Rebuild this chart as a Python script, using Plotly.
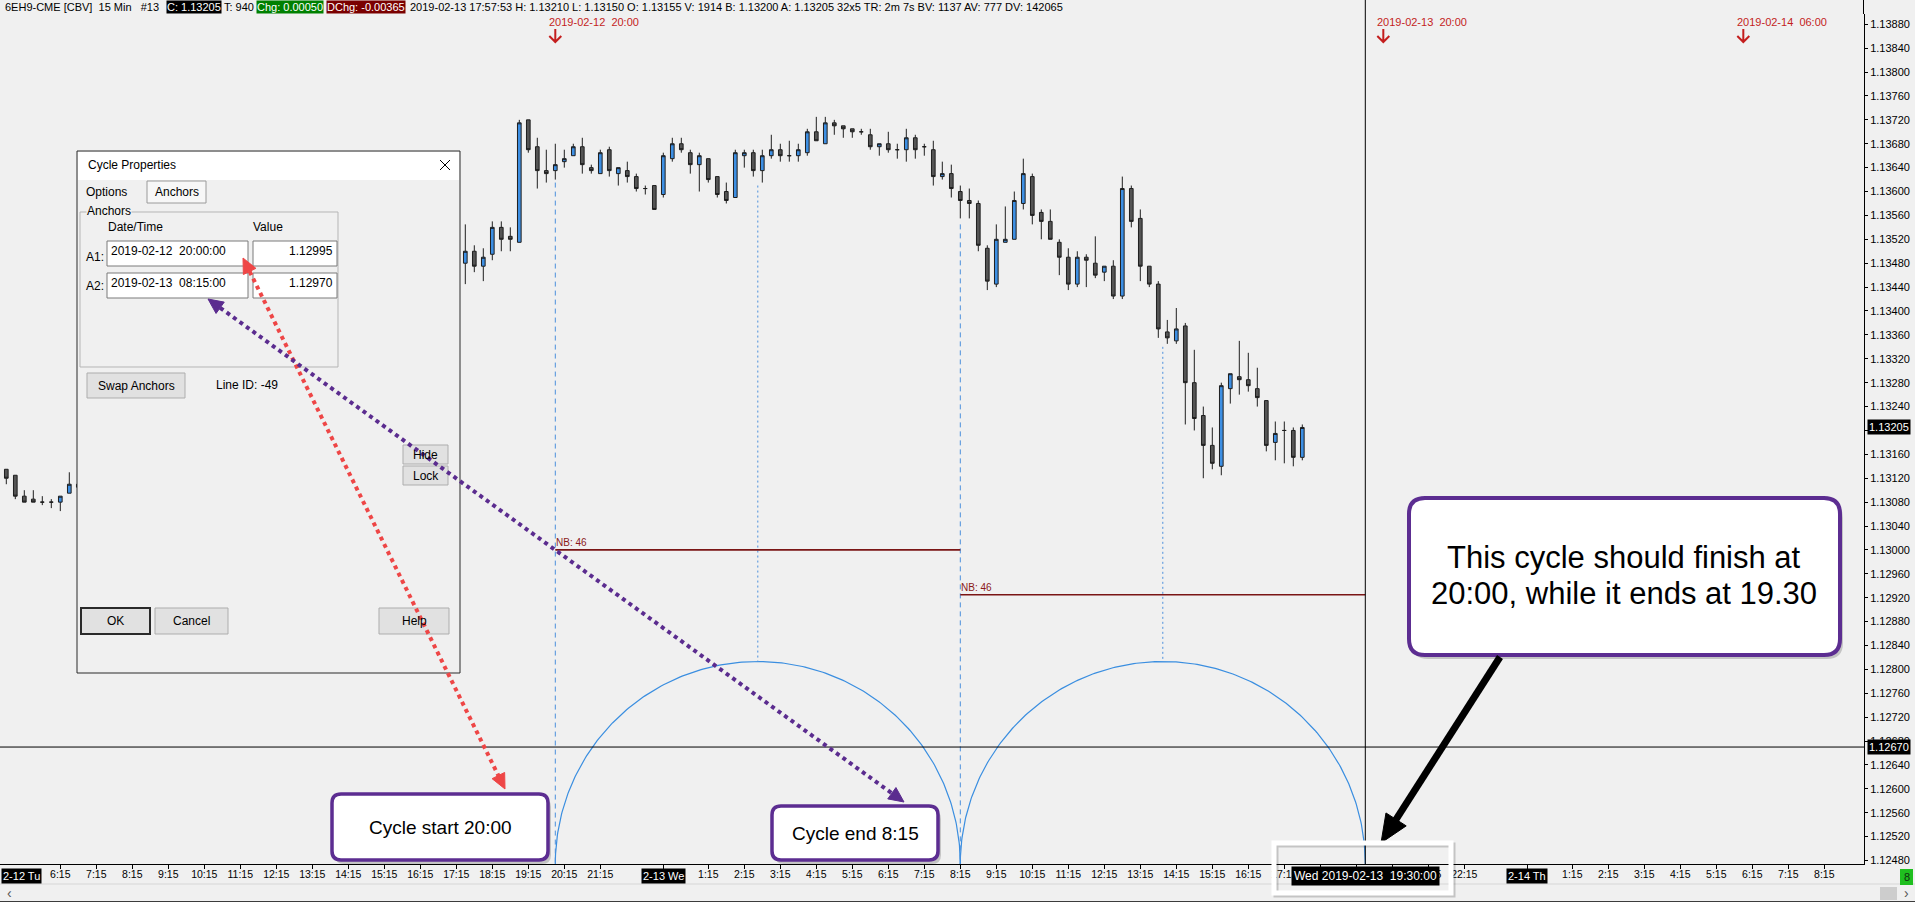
import numpy as np
import pandas as pd
import plotly.graph_objects as go

FONT = "Liberation Sans, Arial, sans-serif"
SP = "\u00a0"

# ---------------- data: 15-minute bars of 6EH9-CME ----------------
seg_starts = ["2019-02-12 04:45", "2019-02-12 17:30", "2019-02-13 00:00"]

open_a  = [1.13135, 1.13125, 1.13090, 1.13085, 1.13080, 1.13080, 1.13080, 1.13095, 1.13105]
high_a  = [1.13135, 1.13125, 1.13100, 1.13100, 1.13090, 1.13085, 1.13090, 1.13130, 1.13110]
low_a   = [1.13110, 1.13085, 1.13080, 1.13080, 1.13075, 1.13070, 1.13065, 1.13095, 1.13105]
close_a = [1.13120, 1.13090, 1.13080, 1.13080, 1.13080, 1.13080, 1.13090, 1.13110, 1.13110]

open_b  = [1.13480, 1.13500, 1.13475, 1.13495, 1.13540, 1.13525, 1.13515, 1.13720, 1.13675, 1.13635, 1.13635,
           1.13650, 1.13660, 1.13675, 1.13640, 1.13630, 1.13670, 1.13630, 1.13635, 1.13625, 1.13605, 1.13610]
high_b  = [1.13545, 1.13510, 1.13505, 1.13550, 1.13550, 1.13540, 1.13720, 1.13720, 1.13690, 1.13670, 1.13680,
           1.13670, 1.13680, 1.13690, 1.13645, 1.13670, 1.13675, 1.13640, 1.13650, 1.13630, 1.13610, 1.13610]
low_b   = [1.13445, 1.13465, 1.13450, 1.13485, 1.13500, 1.13500, 1.13515, 1.13665, 1.13605, 1.13615, 1.13620,
           1.13640, 1.13660, 1.13630, 1.13630, 1.13630, 1.13625, 1.13610, 1.13615, 1.13600, 1.13595, 1.13570]
close_b = [1.13500, 1.13475, 1.13490, 1.13540, 1.13520, 1.13520, 1.13715, 1.13670, 1.13635, 1.13630, 1.13645,
           1.13655, 1.13675, 1.13645, 1.13635, 1.13665, 1.13635, 1.13640, 1.13625, 1.13605, 1.13605, 1.13570]

open_c = [1.13595, 1.13655, 1.13680, 1.13665, 1.13645, 1.13655, 1.13625, 1.13600,
          1.13590, 1.13660, 1.13665, 1.13635, 1.13660, 1.13670, 1.13660, 1.13660,
          1.13665, 1.13700, 1.13680, 1.13715, 1.13710, 1.13705, 1.13700, 1.13695,
          1.13675, 1.13680, 1.13670, 1.13670, 1.13690, 1.13675, 1.13670, 1.13625,
          1.13630, 1.13600, 1.13585, 1.13580, 1.13505, 1.13445, 1.13515, 1.13520,
          1.13580, 1.13625, 1.13565, 1.13550, 1.13515, 1.13490, 1.13445, 1.13490,
          1.13480, 1.13465, 1.13475, 1.13425, 1.13605, 1.13555, 1.13475, 1.13445,
          1.13365, 1.13350, 1.13375, 1.13280, 1.13225, 1.13175, 1.13140, 1.13270,
          1.13290, 1.13285, 1.13270, 1.13250, 1.13180, 1.13200, 1.13200, 1.13155]
high_c = [1.13665, 1.13690, 1.13690, 1.13670, 1.13665, 1.13655, 1.13625, 1.13615,
          1.13670, 1.13670, 1.13670, 1.13670, 1.13695, 1.13680, 1.13685, 1.13680,
          1.13705, 1.13725, 1.13725, 1.13720, 1.13710, 1.13705, 1.13705, 1.13705,
          1.13680, 1.13700, 1.13680, 1.13705, 1.13695, 1.13680, 1.13685, 1.13650,
          1.13645, 1.13610, 1.13605, 1.13585, 1.13510, 1.13545, 1.13575, 1.13600,
          1.13655, 1.13630, 1.13570, 1.13570, 1.13520, 1.13505, 1.13500, 1.13495,
          1.13525, 1.13475, 1.13485, 1.13625, 1.13610, 1.13570, 1.13475, 1.13450,
          1.13385, 1.13405, 1.13380, 1.13335, 1.13240, 1.13205, 1.13280, 1.13295,
          1.13350, 1.13330, 1.13305, 1.13250, 1.13215, 1.13215, 1.13205, 1.13210]
low_c = [1.13590, 1.13650, 1.13665, 1.13630, 1.13600, 1.13615, 1.13590, 1.13580,
         1.13590, 1.13640, 1.13625, 1.13615, 1.13655, 1.13650, 1.13650, 1.13650,
         1.13660, 1.13685, 1.13680, 1.13695, 1.13690, 1.13690, 1.13695, 1.13670,
         1.13660, 1.13665, 1.13655, 1.13650, 1.13655, 1.13660, 1.13610, 1.13620,
         1.13590, 1.13555, 1.13555, 1.13500, 1.13435, 1.13440, 1.13515, 1.13520,
         1.13570, 1.13545, 1.13520, 1.13520, 1.13460, 1.13435, 1.13440, 1.13440,
         1.13455, 1.13450, 1.13420, 1.13420, 1.13540, 1.13450, 1.13440, 1.13355,
         1.13345, 1.13345, 1.13210, 1.13200, 1.13120, 1.13135, 1.13125, 1.13245,
         1.13260, 1.13265, 1.13240, 1.13165, 1.13150, 1.13145, 1.13140, 1.13150]
close_c = [1.13660, 1.13680, 1.13670, 1.13645, 1.13660, 1.13620, 1.13595, 1.13585,
           1.13665, 1.13665, 1.13635, 1.13660, 1.13670, 1.13660, 1.13660, 1.13670,
           1.13700, 1.13685, 1.13715, 1.13710, 1.13705, 1.13700, 1.13700, 1.13675,
           1.13680, 1.13670, 1.13670, 1.13690, 1.13670, 1.13675, 1.13625, 1.13630,
           1.13605, 1.13585, 1.13580, 1.13510, 1.13450, 1.13520, 1.13520, 1.13585,
           1.13630, 1.13560, 1.13550, 1.13520, 1.13490, 1.13445, 1.13490, 1.13485,
           1.13460, 1.13475, 1.13425, 1.13605, 1.13550, 1.13475, 1.13445, 1.13370,
           1.13355, 1.13370, 1.13280, 1.13220, 1.13175, 1.13145, 1.13275, 1.13295,
           1.13285, 1.13275, 1.13255, 1.13175, 1.13195, 1.13200, 1.13155, 1.13205]

# cycle tool
cycle_anchor_times = ["2019-02-12 20:00", "2019-02-13 08:15"]
cycle_anchor_values = ["1.12995", "1.12970"]
cycle_end_time = "2019-02-13 19:30"
nb_levels = [1.13000, 1.12925]
nb_text = "NB: 46"
anchor_line_tops = [1.13615, 1.13545]
apex_line_tops = [1.13610, 1.13340]
top_marker_times = ["2019-02-12 20:00", "2019-02-13 20:00", "2019-02-14 06:00"]
top_marker_text = ["2019-02-12  20:00", "2019-02-13  20:00", "2019-02-14  06:00"]

crosshair_price = 1.12670
last_price = 1.13205

y_tick_values = [round(1.12480 + 0.0004 * k, 5) for k in range(36)]
tick_times = ([f"2019-02-12 {h:02d}:15" for h in range(6, 22)] +
              [f"2019-02-13 {h:02d}:15" for h in range(1, 23)] +
              [f"2019-02-14 {h:02d}:15" for h in range(1, 9)])
hidden_by_cursor = ["2019-02-13 18:15", "2019-02-13 19:15", "2019-02-13 20:15"]
date_labels = [("2019-02-13 00:00", "2-13 We"), ("2019-02-14 00:00", "2-14 Th")]

# ---------------- bar-slot axis (15 min per slot, session break removed) ----------------
ORIGIN = pd.Timestamp("2019-02-12 20:00")
BREAK_END = pd.Timestamp("2019-02-13 00:00")
BREAK_SLOTS = 4


def to_slot(t):
    t = pd.Timestamp(t)
    s = (t - ORIGIN) / pd.Timedelta(minutes=15)
    if t >= BREAK_END:
        s -= BREAK_SLOTS
    return float(s)


seg_lens = [len(open_a), len(open_b), len(open_c)]
bar_times = []
for st, n in zip(seg_starts, seg_lens):
    bar_times += list(pd.date_range(st, periods=n, freq="15min"))
x_slots = [to_slot(t) for t in bar_times]
opens = open_a + open_b + open_c
highs = high_a + high_b + high_c
lows = low_a + low_b + low_c
closes = close_a + close_b + close_c

# ---------------- geometry helpers ----------------
PW, PH, PT = 1864.0, 850.0, 14.0
X_MIN, X_MAX = -61.7, 145.41
Y_MIN, Y_MAX = 1.124742, 1.138972


def X(px):
    return px / PW


def Y(py):
    return (PT + PH - py) / PH


def P(x, y):
    return f"{X(x):.6f},{Y(y):.6f}"


shapes = []
annotations = []


def pline(x0, y0, x1, y1, color, width=1, dash=None):
    shapes.append(dict(type="line", xref="paper", yref="paper", x0=X(x0), y0=Y(y0), x1=X(x1), y1=Y(y1),
                       line=dict(color=color, width=width, dash=dash), layer="above"))


def prect(x0, y0, x1, y1, fill, line=None, lw=1):
    shapes.append(dict(type="rect", xref="paper", yref="paper", x0=X(x0), y0=Y(y1), x1=X(x1), y1=Y(y0),
                       fillcolor=fill, line=dict(color=line if line else "rgba(0,0,0,0)", width=lw if line else 0),
                       layer="above"))


def rrect(x0, y0, x1, y1, r, fill, line, lw):
    path = (f"M {P(x0 + r, y0)} L {P(x1 - r, y0)} Q {P(x1, y0)} {P(x1, y0 + r)} "
            f"L {P(x1, y1 - r)} Q {P(x1, y1)} {P(x1 - r, y1)} L {P(x0 + r, y1)} "
            f"Q {P(x0, y1)} {P(x0, y1 - r)} L {P(x0, y0 + r)} Q {P(x0, y0)} {P(x0 + r, y0)} Z")
    shapes.append(dict(type="path", xref="paper", yref="paper", path=path, fillcolor=fill,
                       line=dict(color=line if line else "rgba(0,0,0,0)", width=lw if line else 0), layer="above"))


def tri(tip, u, L, hw, color):
    bx, by = tip[0] - L * u[0], tip[1] - L * u[1]
    nx, ny = -u[1], u[0]
    a = (bx + hw * nx, by + hw * ny)
    b = (bx - hw * nx, by - hw * ny)
    shapes.append(dict(type="path", xref="paper", yref="paper",
                       path=f"M {P(*tip)} L {P(*a)} L {P(*b)} Z", fillcolor=color,
                       line=dict(color=color, width=1), layer="above"))


def arrow(A, B, color, width, L, hw, dash=None, both=False):
    d = np.subtract(B, A)
    u = d / np.hypot(*d)
    s0 = (A[0] + L * u[0], A[1] + L * u[1]) if both else A
    s1 = (B[0] - L * u[0] * 0.8, B[1] - L * u[1] * 0.8)
    pline(s0[0], s0[1], s1[0], s1[1], color, width, dash)
    tri(B, u, L, hw, color)
    if both:
        tri(A, -u, L, hw, color)


def ptext(px, py, text, size=12, color="#000", anchor="left", bg=None, yanchor="middle", pad=1):
    annotations.append(dict(xref="paper", yref="paper", x=X(px), y=Y(py), text=text, showarrow=False,
                            xanchor=anchor, yanchor=yanchor, font=dict(family=FONT, size=size, color=color),
                            bgcolor=bg if bg else "rgba(0,0,0,0)", borderpad=pad))


# ---------------- figure ----------------
fig = go.Figure()
fig.add_trace(go.Candlestick(
    x=x_slots, open=opens, high=highs, low=lows, close=closes,
    increasing=dict(line=dict(color="#1e1e1e", width=1), fillcolor="#3d8fe3"),
    decreasing=dict(line=dict(color="#1e1e1e", width=1), fillcolor="#545454"),
    whiskerwidth=0, hoverinfo="skip", showlegend=False))

# cycle arcs (true semicircles on screen)
s_a1, s_a2 = to_slot(cycle_anchor_times[0]), to_slot(cycle_anchor_times[1])
cyc = s_a2 - s_a1
px_per_slot = PW / (X_MAX - X_MIN)
px_per_price = PH / (Y_MAX - Y_MIN)
arc_h = (cyc / 2) * px_per_slot / px_per_price
th = np.linspace(0, np.pi, 241)
for k in range(2):
    c = s_a1 + cyc * k + cyc / 2
    fig.add_trace(go.Scatter(x=c + (cyc / 2) * np.cos(th), y=Y_MIN + arc_h * np.sin(th), mode="lines",
                             line=dict(color="#3a8ee0", width=1.2), hoverinfo="skip", showlegend=False))

BLUE = "#4a8fdc"
for k, top in enumerate(anchor_line_tops):
    xs = s_a1 + cyc * k
    shapes.append(dict(type="line", xref="x", yref="y", x0=xs, x1=xs, y0=top, y1=Y_MIN,
                       line=dict(color=BLUE, width=1, dash="5px,4px"), layer="above"))
for k, top in enumerate(apex_line_tops):
    xs = s_a1 + cyc * k + cyc / 2
    shapes.append(dict(type="line", xref="x", yref="y", x0=xs, x1=xs, y0=top, y1=Y_MIN + arc_h,
                       line=dict(color=BLUE, width=1, dash="2px,3px"), layer="above"))

# NB lines
for k, lvl in enumerate(nb_levels):
    xs = s_a1 + cyc * k
    shapes.append(dict(type="line", xref="x", yref="y", x0=xs, x1=xs + cyc, y0=lvl, y1=lvl,
                       line=dict(color="#7a1515", width=1.6), layer="above"))
    annotations.append(dict(xref="x", yref="y", x=xs, y=lvl, text=nb_text, showarrow=False, xanchor="left",
                            yanchor="bottom", xshift=-1, font=dict(family=FONT, size=10, color="#8b1a1a")))

# crosshair
s_cross = to_slot(cycle_end_time)
shapes.append(dict(type="line", xref="x", yref="paper", x0=s_cross, x1=s_cross, y0=Y(0), y1=0,
                   line=dict(color="#000", width=1), layer="above"))
shapes.append(dict(type="line", xref="paper", yref="y", x0=0, x1=1, y0=crosshair_price, y1=crosshair_price,
                   line=dict(color="#000", width=1), layer="above"))
# y-axis line continues up through the header
pline(PW - 0.5, 0, PW - 0.5, PT, "#000", 1)

# top red time markers
RED = "#c41e1e"
for t, txt in zip(top_marker_times, top_marker_text):
    s = to_slot(t)
    annotations.append(dict(xref="x", yref="paper", x=s, y=Y(22), text=txt.replace("  ", SP + SP),
                            showarrow=False, xanchor="left", yanchor="middle", xshift=-8,
                            font=dict(family=FONT, size=11, color=RED)))
    d = 6 / px_per_slot
    shapes.append(dict(type="path", xref="x", yref="paper",
                       path=f"M {s},{Y(29)} L {s},{Y(42)} M {s - d},{Y(36)} L {s},{Y(42)} L {s + d},{Y(36)}",
                       line=dict(color=RED, width=2), layer="above"))

# ---------------- header ----------------
HY = 7
ptext(3, HY, f"6EH9-CME [CBV]{SP}{SP}15 Min{SP}{SP}{SP}#13", 11)
ptext(166, HY, "C: 1.13205", 11, "#fff", bg="#000", pad=0)
ptext(222, HY, "T: 940", 11)
ptext(256, HY, "Chg: 0.00050", 11, "#fff", bg="#008000", pad=0)
ptext(326, HY, "DChg: -0.00365", 11, "#fff", bg="#7a0000", pad=0)
ptext(408, HY, "2019-02-13 17:57:53 H: 1.13210 L: 1.13150 O: 1.13155 V: 1914 B: 1.13200 A: 1.13205 "
               "32x5 TR: 2m 7s BV: 1137 AV: 777 DV: 142065", 11)

# ---------------- axis extras ----------------
for t, txt in date_labels:
    annotations.append(dict(xref="x", yref="paper", x=to_slot(t), y=Y(876), text=txt, showarrow=False,
                            xanchor="center", yanchor="middle", bgcolor="#000", borderpad=1,
                            font=dict(family=FONT, size=11, color="#fff")))
ptext(0.5, 876, "2-12 Tu", 11, "#fff", bg="#000", anchor="left")
annotations.append(dict(xref="x", yref="paper", x=s_cross, y=Y(876),
                        text=f"Wed 2019-02-13{SP}{SP}19:30:00", showarrow=False, xanchor="center",
                        yanchor="middle", bgcolor="#000", borderpad=2, font=dict(family=FONT, size=12, color="#fff")))
for price in (last_price, crosshair_price):
    annotations.append(dict(xref="paper", yref="y", x=X(PW + 3), y=price, text=f"{price:.5f}", showarrow=False,
                            xanchor="left", yanchor="middle", bgcolor="#000", borderpad=1,
                            font=dict(family=FONT, size=11, color="#fff")))
# scrollbar row / status
pline(0, 884, 1915, 884, "#d6d6d6", 1)
pline(0, 901.5, 1915, 901.5, "#3c3c3c", 1)
prect(1880, 887, 1897, 900, "#cdcdcd")
ptext(5, 893, "‹", 14, "#555")
ptext(1902, 893, "›", 14, "#555")
prect(1900, 869, 1913, 885, "#1fbf1f")
ptext(1906.5, 877, "8", 11, "#103010", anchor="center")

# ---------------- Cycle Properties dialog ----------------
prect(77, 151, 460, 673, "#f0f0f0", "#2a2a2a", 1)
prect(78, 152, 459, 180, "#ffffff")
ptext(86, 165, "Cycle Properties", 12)
pline(440, 160, 450, 170, "#000", 1)
pline(450, 160, 440, 170, "#000", 1)
ptext(84, 192, "Options", 12)
prect(147, 181, 206, 203, "#f7f7f7", "#9a9a9a", 1)
ptext(177, 192, "Anchors", 12, anchor="center")
prect(80, 212, 338, 367, "rgba(0,0,0,0)", "#b5b5b5", 1)
ptext(86, 211, "Anchors", 12, bg="#f0f0f0", pad=0)
ptext(106, 227, "Date/Time", 12)
ptext(251, 227, "Value", 12)
for row, (ty, yb0, yb1) in enumerate([(257, 241, 266), (286, 273, 298)]):
    ptext(84, ty, f"A{row + 1}:", 12)
    prect(107, yb0, 248, yb1, "#ffffff", "#7a7a7a", 1)
    prect(253, yb0, 337, yb1, "#ffffff", "#7a7a7a", 1)
    ptext(109, yb0 + 10, cycle_anchor_times[row].replace(" ", SP + SP) + ":00", 12)
    ptext(335, yb0 + 10, cycle_anchor_values[row], 12, anchor="right")
prect(87, 373, 185, 398, "#e1e1e1", "#adadad", 1)
ptext(136, 386, "Swap Anchors", 12, anchor="center")
ptext(247, 385, "Line ID: -49", 12, anchor="center")
prect(403, 445, 448, 464, "#e1e1e1", "#adadad", 1)
ptext(425.5, 455, "Hide", 12, anchor="center")
prect(403, 466, 448, 485, "#e1e1e1", "#adadad", 1)
ptext(425.5, 476, "Lock", 12, anchor="center")
prect(81, 608, 150, 634, "#e1e1e1", "#2a2a2a", 2)
ptext(115.5, 621, "OK", 12, anchor="center")
prect(155, 608, 228, 634, "#e1e1e1", "#adadad", 1)
ptext(191.5, 621, "Cancel", 12, anchor="center")
prect(379, 608, 449, 634, "#e1e1e1", "#adadad", 1)
ptext(414, 621, "Help", 12, anchor="center")

# ---------------- callouts ----------------
PURPLE = "#5c2d91"
for (x0, y0, x1, y1, r, lw) in [(332, 794, 548, 860, 9, 3.5), (772, 806, 938, 860, 9, 3.5),
                                (1409, 498, 1840, 655, 16, 4)]:
    rrect(x0 + 3, y0 + 4, x1 + 3, y1 + 4, r, "rgba(0,0,0,0.18)", None, 0)
    rrect(x0, y0, x1, y1, r, "#ffffff", PURPLE, lw)
ptext(440, 827, "Cycle start 20:00", 19, anchor="center")
ptext(855, 833, "Cycle end 8:15", 19, anchor="center")
ptext(1624, 557, "This cycle should finish at", 31, anchor="center")
ptext(1624, 593, "20:00, while it ends at 19.30", 31, anchor="center")

arrow((243, 258), (505, 789), "#ee4646", 4, 15, 7, dash="4px,4px", both=True)
arrow((208, 299), (904, 802), "#5b2c8f", 4, 15, 7, dash="4px,4px", both=True)
arrow((1500, 657), (1381, 843), "#000", 7, 28, 12)

# highlight box around the time label
prect(1276, 845, 1453, 895, "rgba(0,0,0,0)", "rgba(0,0,0,0.18)", 5)
prect(1274, 843, 1451, 893, "rgba(0,0,0,0)", "#ffffff", 5)

# ---------------- layout ----------------
fig.update_layout(
    width=1915, height=902,
    margin=dict(l=0, r=int(1915 - PW), t=int(PT), b=int(902 - PT - PH), pad=0),
    paper_bgcolor="#f0f0f0", plot_bgcolor="#f0f0f0",
    showlegend=False, hovermode=False, boxgap=0.42,
    xaxis=dict(range=[X_MIN, X_MAX], rangeslider=dict(visible=False), showgrid=False, zeroline=False,
               showline=True, linecolor="#000", linewidth=1, ticks="outside", ticklen=4, tickcolor="#000",
               tickvals=[to_slot(t) for t in tick_times] + [to_slot(t) for t, _ in date_labels],
               ticktext=[("" if t[:16] in hidden_by_cursor else f"{pd.Timestamp(t).hour}:15") for t in tick_times]
                        + ["" for _ in date_labels],
               ticklabelstandoff=-4,
               tickfont=dict(family=FONT, size=10.5, color="#000"), automargin=False, fixedrange=True),
    yaxis=dict(range=[Y_MIN, Y_MAX], side="right", showgrid=False, zeroline=False, showline=True,
               linecolor="#000", linewidth=1, ticks="outside", ticklen=3, tickcolor="#000",
               tickvals=y_tick_values, tickformat=".5f", tickfont=dict(family=FONT, size=11, color="#000"),
               automargin=False, fixedrange=True),
    shapes=shapes, annotations=annotations,
)

fig.write_html("out.html", config={"displayModeBar": False},
               post_script="document.body.style.margin='0px';document.body.style.overflow='hidden';")
